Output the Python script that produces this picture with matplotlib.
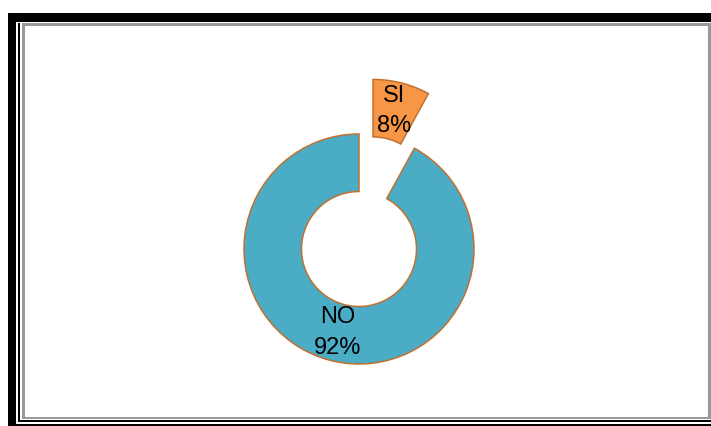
import matplotlib.pyplot as plt
from matplotlib.patches import Rectangle

labels = ["SI", "NO"]
values = [8, 92]
colors = ["#F79646", "#4BACC6"]
explode = [0.49, 0]

W, H = 711, 426
fig = plt.figure(figsize=(W / 100, H / 100), dpi=100)

# page border drawn in pixel coordinates
bg = fig.add_axes([0, 0, 1, 1])
bg.set_xlim(0, W)
bg.set_ylim(H, 0)
bg.axis("off")


def box(x0, y0, x1, y1, color):
    bg.add_patch(Rectangle((x0, y0), x1 - x0, y1 - y0, color=color, lw=0))


box(8, 13, 16, H, "black")
box(8, 13, W, 22, "black")
box(18, 23, 20, 422, "black")
box(18, 420, W, 422, "black")
box(16, 424, W, 426, "black")
box(22, 23, 25, 419, "#999999")
box(22, 23, W, 26, "#999999")
box(708, 23, W, 419, "#999999")
box(22, 417, W, 419, "#999999")

# donut: centre at (359, 249) px, outer radius 115 px
R = 115
L = 1.6
S = 2 * L * R
cx, cy = 359, H - 249
ax = fig.add_axes([(cx - S / 2) / W, (cy - S / 2) / H, S / W, S / H])
wedges, texts, autotexts = ax.pie(
    values, colors=colors, explode=explode, startangle=90, counterclock=False,
    autopct="%1.0f%%", pctdistance=0.75, radius=1,
    wedgeprops=dict(width=0.5, edgecolor="#C0712F", linewidth=1.1),
    textprops=dict(fontsize=17, family="Liberation Sans", color="black"),
)
for t, lab in zip(autotexts, labels):
    t.set_text(f"{lab}\n{t.get_text()}")
    t.set_linespacing(1.5)
ax.set_xlim(-L, L)
ax.set_ylim(-L, L)
ax.set_aspect("equal")
ax.axis("off")

fig.savefig("out.png", dpi=100)
